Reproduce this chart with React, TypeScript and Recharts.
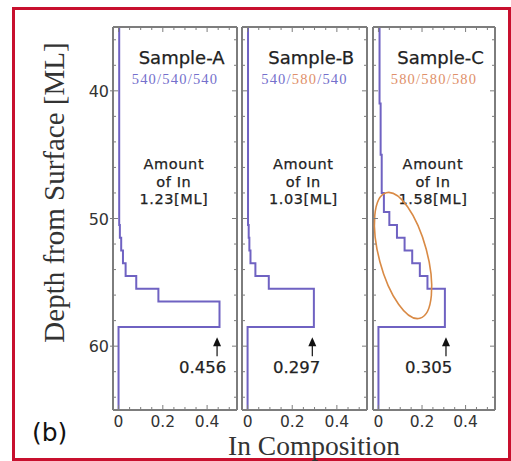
import React from 'react';
import { LineChart, Line, XAxis, YAxis, ReferenceDot } from 'recharts';

// ---------- data ----------
const panelNames = ['Sample-A', 'Sample-B', 'Sample-C'];
const growthTemps = [
  ['540', '540', '540'],
  ['540', '580', '540'],
  ['580', '580', '580'],
];
const amountLabels = ['1.23[ML]', '1.03[ML]', '1.58[ML]'];
const peakLabels = ['0.456', '0.297', '0.305'];

// layer boundaries (depth, ML) and In composition within each layer
const boundsA = [35, 50.5, 51.5, 52.5, 53.5, 54.5, 55.5, 56.5, 58.5, 65];
const compA = [0.003, 0.006, 0.012, 0.02, 0.032, 0.08, 0.18, 0.456, 0.0];
const boundsB = [35, 50.5, 51.5, 52.5, 53.5, 54.5, 55.5, 58.5, 65];
const compB = [0.002, 0.005, 0.008, 0.013, 0.035, 0.095, 0.297, 0.0];
const boundsC = [35, 41, 45, 48, 49.5, 50.5, 51.5, 52.5, 53.5, 54.5, 55.5, 58.5, 65];
const compC = [0.005, 0.01, 0.015, 0.025, 0.05, 0.085, 0.12, 0.155, 0.19, 0.225, 0.305, 0.0];

const xTicks = [0, 0.05, 0.1, 0.15, 0.2, 0.25, 0.3, 0.35, 0.4, 0.45, 0.5];
const xTickLabels = [0, 0.2, 0.4];
const depthTicks = [36, 38, 40, 42, 44, 46, 48, 50, 52, 54, 56, 58, 60, 62, 64];
const depthTickLabels = [40, 50, 60];

const arrowX = [0.445, 0.29, 0.31];
const peakLabelX = [0.38, 0.22, 0.23];
const ellipseX = 0.113;
const ellipseDepth = 52.9;

// ---------- styling ----------
const X_DOMAIN: [number, number] = [-0.025, 0.535];
const Y_DOMAIN: [number, number] = [35, 65];
const FRAME = '#7d7d7d';
const TICK = '#7d7d7d';
const LINE = '#6f62c2';
const PURPLE = '#7470cc';
const ORANGE = '#e0906a';
const TEXT = '#222';
const SANS = 'DejaVu Sans, Liberation Sans, sans-serif';
const SERIF = 'Liberation Serif, DejaVu Serif, serif';

function stepPoints(bounds: number[], comp: number[]) {
  const pts: { x: number; d: number }[] = [];
  for (let i = 0; i < comp.length; i++) {
    pts.push({ x: comp[i], d: bounds[i] });
    pts.push({ x: comp[i], d: bounds[i + 1] });
  }
  return pts;
}

const panelData = [stepPoints(boundsA, compA), stepPoints(boundsB, compB), stepPoints(boundsC, compC)];

const near = (a: number, b: number) => Math.abs(a - b) < 1e-6;

const BottomTick = (p: any) => {
  const { x, y, payload } = p;
  const lab = xTickLabels.some((v) => near(v, payload.value));
  return (
    <g>
      <line x1={x} x2={x} y1={y} y2={y - (lab ? 5 : 3)} stroke={TICK} strokeWidth={1} />
      {lab && (
        <text x={x} y={y + 16.5} textAnchor="middle" fontFamily={SANS} fontSize={15.5} fill="#333">
          {String(payload.value)}
        </text>
      )}
    </g>
  );
};

const TopTick = (p: any) => {
  const { x, y, payload } = p;
  const lab = xTickLabels.some((v) => near(v, payload.value));
  return <line x1={x} x2={x} y1={y} y2={y + (lab ? 5 : 3)} stroke={TICK} strokeWidth={1} />;
};

const makeLeftTick = (showLabel: boolean) => (p: any) => {
  const { x, y, payload } = p;
  const lab = depthTickLabels.some((v) => near(v, payload.value));
  return (
    <g>
      <line x1={x - (lab && showLabel ? 3 : 0)} x2={x + (lab ? 5 : 3)} y1={y} y2={y} stroke={TICK} strokeWidth={1} />
      {lab && showLabel && (
        <text x={x - 4} y={y + 6} textAnchor="end" fontFamily={SANS} fontSize={16} fill="#333">
          {String(payload.value)}
        </text>
      )}
    </g>
  );
};

const RightTick = (p: any) => {
  const { x, y, payload } = p;
  const lab = depthTickLabels.some((v) => near(v, payload.value));
  return <line x1={x} x2={x - (lab ? 5 : 3)} y1={y} y2={y} stroke={TICK} strokeWidth={1} />;
};

function textDot(key: string, x: number, depth: number, content: React.ReactNode, extra: any = {}) {
  return (
    <ReferenceDot
      key={key}
      xAxisId="b"
      yAxisId="l"
      x={x}
      y={depth}
      r={0}
      ifOverflow="visible"
      shape={(p: any) => (
        <text
          x={p.cx}
          y={p.cy}
          textAnchor="middle"
          fontFamily={SANS}
          fontSize={16}
          fill={TEXT}
          stroke={TEXT}
          strokeWidth={0.25}
          {...extra}
        >
          {content}
        </text>
      )}
    />
  );
}

const tempColor = (t: string) => (t === '580' ? ORANGE : PURPLE);

const amountStyle = { fontSize: 14.5, letterSpacing: 0.6 };

function Panel({ idx, left, width, yAxisWidth }: { idx: number; left: number; width: number; yAxisWidth: number }) {
  const temps = growthTemps[idx];
  const subtitle = [
    <tspan key="t0" fill={tempColor(temps[0])}>{temps[0]}</tspan>,
    <tspan key="s0" fill={temps[0] === '540' || temps[1] === '540' ? PURPLE : ORANGE}>/</tspan>,
    <tspan key="t1" fill={tempColor(temps[1])}>{temps[1]}</tspan>,
    <tspan key="s1" fill={temps[1] === '540' || temps[2] === '540' ? PURPLE : ORANGE}>/</tspan>,
    <tspan key="t2" fill={tempColor(temps[2])}>{temps[2]}</tspan>,
  ];
  const ax = arrowX[idx];
  return (
    <div style={{ position: 'absolute', left, top: 12 }}>
      <LineChart width={width} height={428} data={panelData[idx]} margin={{ top: 14, right: 2, bottom: 0, left: 0 }}>
        <XAxis
          xAxisId="b"
          type="number"
          dataKey="x"
          domain={X_DOMAIN}
          ticks={xTicks}
          interval={0}
          height={30}
          tickSize={0}
          tickMargin={0}
          tickLine={false}
          axisLine={{ stroke: FRAME, strokeWidth: 2 }}
          tick={BottomTick}
          allowDataOverflow
        />
        <XAxis
          xAxisId="t"
          orientation="top"
          type="number"
          dataKey="x"
          domain={X_DOMAIN}
          ticks={xTicks}
          interval={0}
          height={1}
          tickSize={0}
          tickMargin={0}
          tickLine={false}
          axisLine={{ stroke: FRAME, strokeWidth: 2 }}
          tick={TopTick}
          allowDataOverflow
        />
        <YAxis
          yAxisId="l"
          type="number"
          domain={Y_DOMAIN}
          reversed
          ticks={depthTicks}
          interval={0}
          width={yAxisWidth}
          tickSize={0}
          tickMargin={0}
          tickLine={false}
          axisLine={{ stroke: FRAME, strokeWidth: 2 }}
          tick={makeLeftTick(idx === 0)}
          allowDataOverflow
        />
        <YAxis
          yAxisId="r"
          orientation="right"
          type="number"
          domain={Y_DOMAIN}
          reversed
          ticks={depthTicks}
          interval={0}
          width={1}
          tickSize={0}
          tickMargin={0}
          tickLine={false}
          axisLine={{ stroke: FRAME, strokeWidth: 2 }}
          tick={RightTick}
          allowDataOverflow
        />
        <Line
          xAxisId="b"
          yAxisId="l"
          dataKey="d"
          type="linear"
          stroke={LINE}
          strokeWidth={2}
          dot={false}
          activeDot={false}
          isAnimationActive={false}
        />
        {textDot('name', 0.285, 37.9, panelNames[idx], { fontSize: 18 })}
        {textDot('sub', 0.255, 39.5, subtitle, {
          fontFamily: SERIF,
          fontSize: 14.5,
          letterSpacing: 1.2,
          stroke: 'none',
        })}
        {textDot('am1', 0.25, 46.15, 'Amount', amountStyle)}
        {textDot('am2', 0.25, 47.5, 'of In', amountStyle)}
        {textDot('am3', 0.25, 48.9, amountLabels[idx], amountStyle)}
        {textDot('peak', peakLabelX[idx], 62.1, peakLabels[idx], { fontSize: 16.5 })}
        <ReferenceDot
          xAxisId="b"
          yAxisId="l"
          x={ax}
          y={59.3}
          r={0}
          ifOverflow="visible"
          shape={(p: any) => (
            <g>
              <path d={`M${p.cx},${p.cy} L${p.cx - 4},${p.cy + 9} L${p.cx + 4},${p.cy + 9} Z`} fill="#111" />
              <line x1={p.cx} x2={p.cx} y1={p.cy + 8} y2={p.cy + 19} stroke="#111" strokeWidth={1.2} />
            </g>
          )}
        />
        {idx === 2 && (
          <ReferenceDot
            xAxisId="b"
            yAxisId="l"
            x={ellipseX}
            y={ellipseDepth}
            r={0}
            ifOverflow="visible"
            shape={(p: any) => (
              <ellipse
                cx={p.cx}
                cy={p.cy}
                rx={24}
                ry={65}
                transform={`rotate(-15 ${p.cx} ${p.cy})`}
                fill="none"
                stroke="#d98a45"
                strokeWidth={1.6}
              />
            )}
          />
        )}
      </LineChart>
    </div>
  );
}

export default function App() {
  return (
    <div style={{ position: 'absolute', left: 0, top: 0, width: 511, height: 461, background: '#fff' }}>
      <div
        style={{
          position: 'absolute',
          left: 12,
          top: 7,
          width: 499,
          height: 454,
          boxSizing: 'border-box',
          border: '3px solid #c8102e',
          background: '#fff',
        }}
      />
      <Panel idx={0} left={12} width={228} yAxisWidth={101} />
      <Panel idx={1} left={239} width={131} yAxisWidth={3} />
      <Panel idx={2} left={370} width={128} yAxisWidth={3} />
      <svg
        width={511}
        height={461}
        style={{ position: 'absolute', left: 0, top: 0, pointerEvents: 'none' }}
      >
        <text
          transform="translate(64,192.5) rotate(-90)"
          textAnchor="middle"
          fontFamily={SERIF}
          fontSize={29}
          fill="#333"
        >
          Depth from Surface [ML]
        </text>
        <text x={314} y={455} textAnchor="middle" fontFamily={SERIF} fontSize={27.5} fill="#333">
          In Composition
        </text>
        <text x={32} y={441} fontFamily={SANS} fontSize={25} fill="#111">
          (b)
        </text>
      </svg>
    </div>
  );
}
